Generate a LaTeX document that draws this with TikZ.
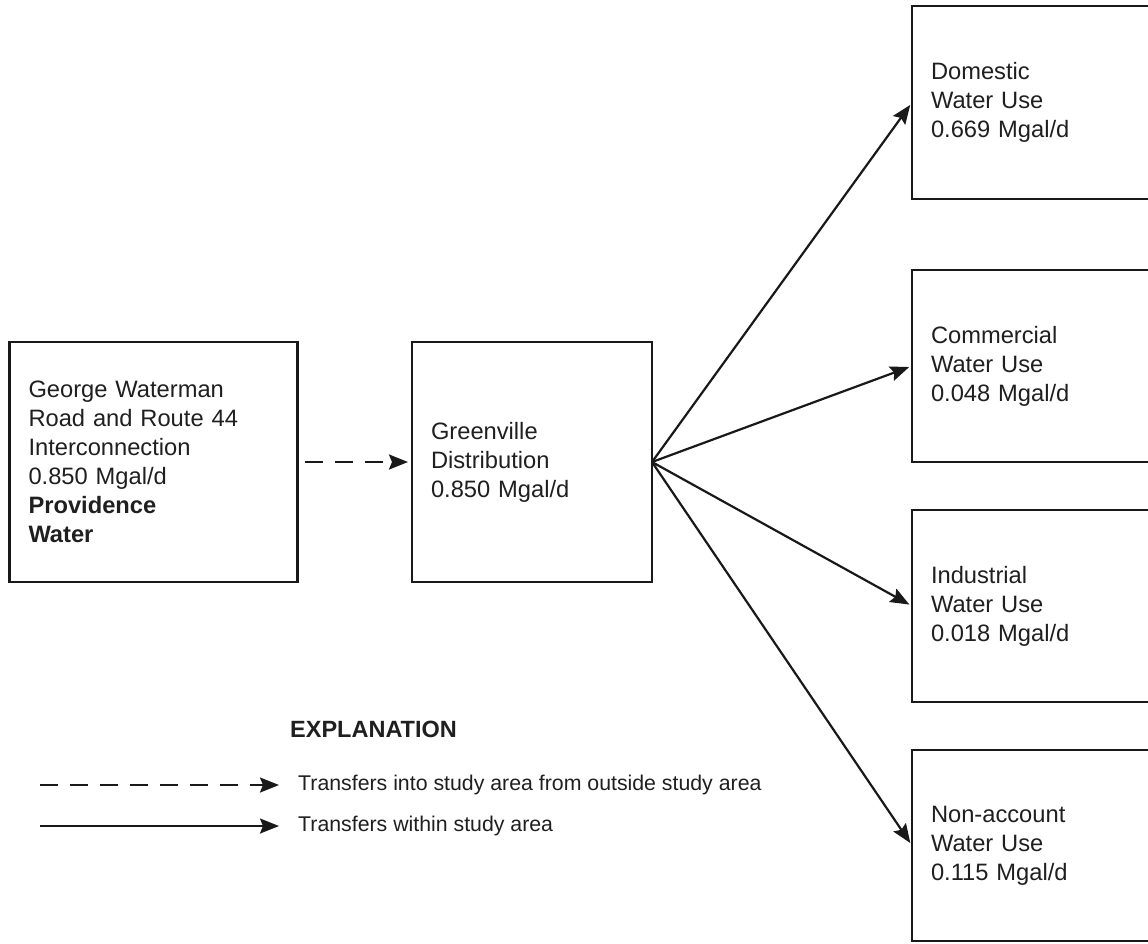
\documentclass[tikz,border=0pt]{standalone}
\usepackage{fontspec}
\setmainfont{Liberation Sans}
\usetikzlibrary{arrows.meta}
\begin{document}
\begin{tikzpicture}[x=1pt,y=-1pt,
  box/.style={draw=black!90, line width=2.2pt, inner xsep=19pt, inner ysep=0pt,
    outer sep=0pt, align=left, anchor=center, font=\fontsize{23.7}{29}\selectfont, text=black!88},
  flow/.style={draw=black!90, line width=2.2pt, -{Stealth[length=19pt,width=15pt,inset=3pt]}},
  inflow/.style={flow, dash pattern=on 18pt off 12pt},
  legtext/.style={anchor=west, font=\fontsize{21.3}{25}\selectfont, inner sep=0pt, text=black!88}]
\useasboundingbox (0,0) rectangle (1148,943);
\clip (0,0) rectangle (1148,943);

% source and distribution
\node[box, minimum width=288pt, minimum height=240pt, text width=250pt] (src) at (153.5,462)
  {George Waterman\\Road and Route 44\\Interconnection\\0.850 Mgal/d\\\textbf{Providence}\\\textbf{Water}};
\node[box, minimum width=240pt, minimum height=240pt, text width=202pt] (mid) at (532,462)
  {Greenville\\Distribution\\0.850 Mgal/d};

% uses
\node[box, minimum width=260pt, minimum height=193pt, text width=222pt] (dom) at (1042,102.5)
  {Domestic\\Water Use\\0.669 Mgal/d};
\node[box, minimum width=260pt, minimum height=192pt, text width=222pt] (com) at (1042,366)
  {Commercial\\Water Use\\0.048 Mgal/d};
\node[box, minimum width=260pt, minimum height=192pt, text width=222pt] (ind) at (1042,606)
  {Industrial\\Water Use\\0.018 Mgal/d};
\node[box, minimum width=260pt, minimum height=191pt, text width=222pt] (non) at (1042,845.5)
  {Non-account\\Water Use\\0.115 Mgal/d};

% connectors
\draw[inflow, shorten <=7pt, shorten >=4pt] (src.east) -- (mid.west);
\foreach \t in {dom,com,ind,non}
  \draw[flow, shorten >=3pt] (mid.east) -- (\t.west);

% explanation
\node[anchor=west, inner sep=0pt, font=\fontsize{23.5}{28}\selectfont\bfseries, text=black!88] (expl) at (290,729) {EXPLANATION};
\coordinate (la) at (40,785);
\coordinate (lb) at (279,785);
\coordinate (lc) at (40,826);
\coordinate (ld) at (279,826);
\node[legtext] (t1) at (298,785) {Transfers into study area from outside study area};
\node[legtext] (t2) at (298,826) {Transfers within study area};
\draw[inflow] (la) -- (lb);
\draw[flow] (lc) -- (ld);
\end{tikzpicture}
\end{document}
